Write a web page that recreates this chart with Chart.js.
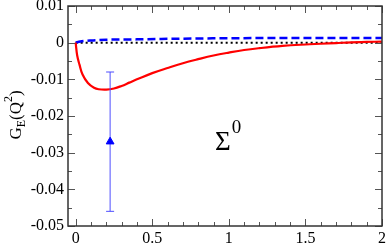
<!DOCTYPE html>
<html>
<head>
<meta charset="utf-8">
<script src="https://cdn.jsdelivr.net/npm/chart.js@4.4.1/dist/chart.umd.min.js"></script>
<style>
html,body{margin:0;padding:0;background:#fff}
</style>
</head>
<body>
<canvas id="myChart" width="388" height="243"></canvas>
<script>
// red curve G_E(Q^2) for Sigma0
var redX=[0,0.01,0.025,0.045,0.08,0.12,0.15,0.2,0.25,0.3,0.35,0.4,0.5,0.6,0.7,0.8,0.9,1.0,1.1,1.2,1.35,1.5,1.6,1.7,1.8,1.9,2.0]
var redY=[0,-0.0035,-0.006,-0.0087,-0.011,-0.0123,-0.0127,-0.0128,-0.0125,-0.0118,-0.0109,-0.0100,-0.0083,-0.0069,-0.0056,-0.0045,-0.0035,-0.0027,-0.0020,-0.0015,-0.0009,-0.0005,-0.0003,-0.0001,0.0001,0.0002,0.0003]
// blue dashed curve
var blueX=[0,0.03,0.1,0.2,0.4,0.7,1.0,1.5,2.0]
var blueY=[0,0.0003,0.0006,0.0008,0.0009,0.0011,0.0012,0.0013,0.0013]
// zero line
var zeroX=[0,2]
var zeroY=[0,0]
// lattice point with error bar
var ptX=[0.225]
var ptY=[-0.027]
var ptLo=[-0.046]
var ptHi=[-0.008]

var xTicks=[0,0.5,1,1.5,2]
var xTickLabels=['0','0.5','1','1.5','2']
var xMinor=[0.1,0.2,0.3,0.4,0.6,0.7,0.8,0.9,1.1,1.2,1.3,1.4,1.6,1.7,1.8,1.9]
var yTicks=[-0.05,-0.04,-0.03,-0.02,-0.01,0,0.01]
var yTickLabels=['-0.05','-0.04','-0.03','-0.02','-0.01','0','0.01']
var yMinor=[-0.045,-0.035,-0.025,-0.015,-0.005,0.005]
var xMin=-0.05, xMax=2, yMin=-0.05, yMax=0.01
var sigmaAt={x:0.91,y:-0.0293}

function pts(xs,ys){
    var out=[]
    for(var i=0;i<xs.length;i++){ out.push({x:xs[i],y:ys[i]}) }
    return out
}

var errPts=[]
for(var i=0;i<ptX.length;i++){
    errPts.push({x:ptX[i],y:ptLo[i]})
    errPts.push({x:ptX[i],y:ptHi[i]})
}

var serif="Liberation Serif"
Chart.defaults.font.family=serif
Chart.defaults.font.size=16
Chart.defaults.color='#000'

var frameTicks={
    id:'frameTicks',
    afterDraw:function(chart){
        var ctx=chart.ctx, a=chart.chartArea, sx=chart.scales.x, sy=chart.scales.y
        ctx.save()
        ctx.strokeStyle='#555'
        ctx.lineWidth=1
        ctx.beginPath()
        function vt(v,len){
            var p=Math.round(sx.getPixelForValue(v))+0.5
            ctx.moveTo(p,a.bottom); ctx.lineTo(p,a.bottom-len)
            ctx.moveTo(p,a.top); ctx.lineTo(p,a.top+len)
        }
        function ht(v,len){
            var p=Math.round(sy.getPixelForValue(v))+0.5
            ctx.moveTo(a.left,p); ctx.lineTo(a.left+len,p)
            ctx.moveTo(a.right,p); ctx.lineTo(a.right-len,p)
        }
        xTicks.forEach(function(v){vt(v,7)})
        xMinor.forEach(function(v){vt(v,4)})
        yTicks.forEach(function(v){ht(v,7)})
        yMinor.forEach(function(v){ht(v,4)})
        ctx.stroke()
        ctx.strokeStyle='#333'
        ctx.lineWidth=1.5
        ctx.strokeRect(a.left,a.top,a.right-a.left,a.bottom-a.top)

        ctx.fillStyle='#000'
        ctx.textBaseline='alphabetic'
        ctx.textAlign='left'

        // Sigma^0 label
        var lx=sx.getPixelForValue(sigmaAt.x), ly=sy.getPixelForValue(sigmaAt.y)
        ctx.font='27px '+serif
        ctx.fillText('\u03A3',lx,ly)
        var w=ctx.measureText('\u03A3').width
        ctx.font='19px '+serif
        ctx.fillText('0',lx+w+1,ly-17)

        // y axis title G_E(Q^2)
        ctx.translate(21,115)
        ctx.rotate(-Math.PI/2)
        var parts=[['G',17,0],['E',12,4],['(Q',17,0],['2',12,-9],[')',17,0]]
        var total=0
        parts.forEach(function(p){ ctx.font=p[1]+'px '+serif; total+=ctx.measureText(p[0]).width })
        var cx=-total/2
        parts.forEach(function(p){
            ctx.font=p[1]+'px '+serif
            ctx.fillText(p[0],cx,p[2])
            cx+=ctx.measureText(p[0]).width
        })
        ctx.restore()
    }
}

var myChart=document.getElementById('myChart').getContext('2d')
var chart=new Chart(myChart,{
    type:'scatter',
    data:{
        datasets:[
            {
                data:pts(redX,redY),
                showLine:true,
                borderColor:'#ff0000',
                borderWidth:2.2,
                pointRadius:0,
                tension:0.4,
                order:2
            },
            {
                data:pts(blueX,blueY),
                showLine:true,
                borderColor:'#0000ff',
                borderWidth:2.5,
                borderDash:[8,4],
                pointRadius:0,
                cubicInterpolationMode:'monotone',
                order:3
            },
            {
                data:pts(zeroX,zeroY),
                showLine:true,
                borderColor:'#000000',
                borderWidth:2,
                borderDash:[2,3],
                pointRadius:0,
                order:4
            },
            {
                data:errPts,
                showLine:true,
                borderColor:'#4d4dff',
                borderWidth:1,
                pointStyle:'line',
                pointRadius:4,
                pointBorderColor:'#4d4dff',
                pointBorderWidth:1,
                order:1
            },
            {
                data:pts(ptX,ptY),
                showLine:false,
                pointStyle:'triangle',
                pointRadius:4.5,
                pointBackgroundColor:'#0000ff',
                pointBorderColor:'#0000ff',
                pointBorderWidth:1,
                order:0
            }
        ]
    },
    options:{
        responsive:false,
        animation:false,
        devicePixelRatio:1,
        layout:{padding:{top:6,right:6,left:0,bottom:0}},
        plugins:{legend:{display:false},tooltip:{enabled:false}},
        scales:{
            x:{
                type:'linear',min:xMin,max:xMax,
                grid:{display:false,drawTicks:false},
                border:{display:false},
                afterBuildTicks:function(s){ s.ticks=xTicks.map(function(v){return {value:v}}) },
                afterFit:function(s){ s.height=17; s.paddingLeft=0; s.paddingRight=0 },
                ticks:{
                    padding:3,maxRotation:0,autoSkip:false,
                    callback:function(v){ return xTickLabels[xTicks.indexOf(v)] }
                }
            },
            y:{
                type:'linear',min:yMin,max:yMax,
                grid:{display:false,drawTicks:false},
                border:{display:false},
                afterBuildTicks:function(s){ s.ticks=yTicks.map(function(v){return {value:v}}) },
                afterFit:function(s){ s.width=68; s.paddingTop=0; s.paddingBottom=0 },
                ticks:{
                    padding:4,autoSkip:false,
                    callback:function(v){
                        for(var i=0;i<yTicks.length;i++){ if(Math.abs(yTicks[i]-v)<1e-9) return yTickLabels[i] }
                        return ''
                    }
                }
            }
        }
    },
    plugins:[frameTicks]
})
</script>
</body>
</html>
